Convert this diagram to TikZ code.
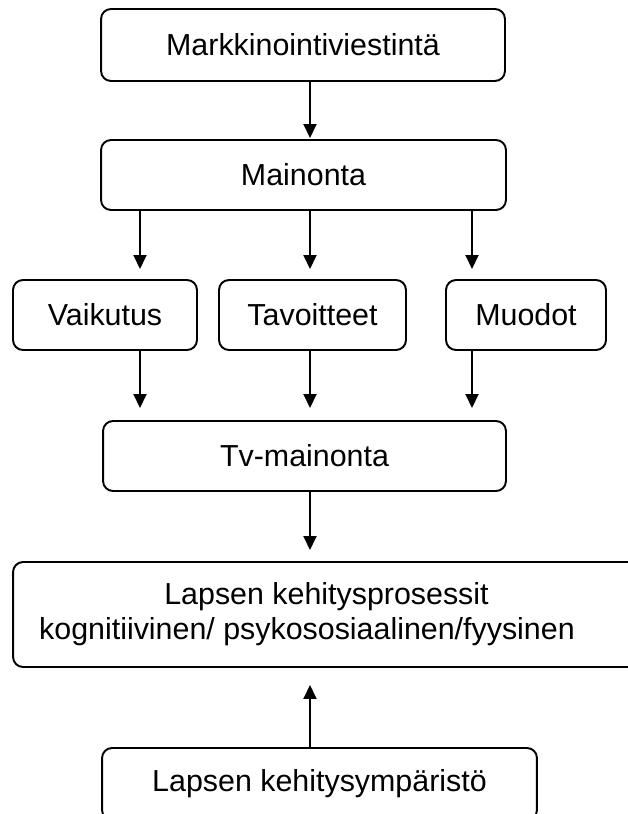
\documentclass[tikz,border=0pt]{standalone}
\usepackage{fontspec}
\setmainfont{Liberation Sans}
\usetikzlibrary{arrows.meta}

\begin{document}
\begin{tikzpicture}[x=0.02cm, y=-0.02cm,
  box/.style={draw, rounded corners=2mm, line width=1.1pt, inner sep=0pt, outer sep=0pt,
    minimum height=1.4cm, align=center, font=\fontsize{17.3}{20}\selectfont},
  arr/.style={line width=1.1pt, -{Triangle[length=2.8mm,width=2.6mm]}}]

\useasboundingbox (0,0) rectangle (627,814);

\coordinate (colA) at (140,0);
\coordinate (colB) at (310,0);
\coordinate (colC) at (472,0);

\node [box, minimum width=8.08cm, minimum height=1.44cm] (markk) at (303,45) {Markkinointiviestintä};
\node [box, minimum width=8.1cm] (mainonta) at (303.5,175) {Mainonta};

\node [box, minimum width=3.68cm] (vaikutus) at (105,315) {Vaikutus};
\node [box, minimum width=3.74cm] (tavoitteet) at (312.5,315) {Tavoitteet};
\node [box, minimum width=3.2cm] (muodot) at (526,315) {Muodot};

\node [box, minimum width=8.06cm] (tv) at (304.5,456) {Tv-mainonta};

\node [box, minimum width=12.54cm, minimum height=2.1cm] (kehitys) at (326.5,614.5)
  {Lapsen kehitysprosessit\\ kognitiivinen/ psykososiaalinen/fyysinen\hspace*{0.78cm}};
\node [box, minimum width=8.7cm, minimum height=1.44cm] (ymparisto) at (319.5,784) {Lapsen kehitysympäristö};

\draw [arr, shorten >=0.04cm] (markk.south -| colB) -- (mainonta.north -| colB);

\draw [arr, shorten >=0.22cm] (mainonta.south -| colA) -- (vaikutus.north -| colA);
\draw [arr, shorten >=0.22cm] (mainonta.south -| colB) -- (tavoitteet.north -| colB);
\draw [arr, shorten >=0.22cm] (mainonta.south -| colC) -- (muodot.north -| colC);

\draw [arr, shorten >=0.26cm] (vaikutus.south -| colA) -- (tv.north -| colA);
\draw [arr, shorten >=0.26cm] (tavoitteet.south -| colB) -- (tv.north -| colB);
\draw [arr, shorten >=0.26cm] (muodot.south -| colC) -- (tv.north -| colC);

\draw [arr, shorten >=0.24cm] (tv.south -| colB) -- (kehitys.north -| colB);
\draw [arr, shorten >=0.36cm] (ymparisto.north -| colB) -- (kehitys.south -| colB);

\end{tikzpicture}
\end{document}
